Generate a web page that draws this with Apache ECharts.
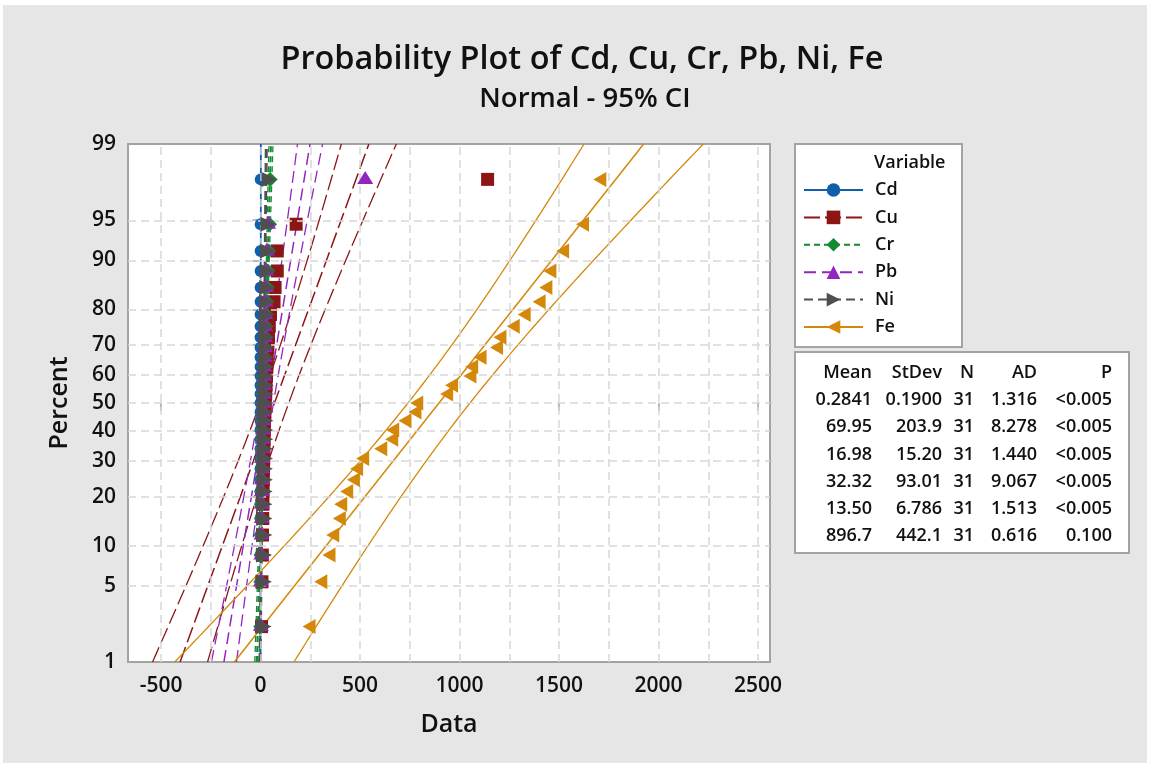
<!DOCTYPE html>
<html>
<head>
<meta charset="utf-8">
<title>Probability Plot</title>
<script src="https://cdn.jsdelivr.net/npm/echarts@6/dist/echarts.min.js"></script>
<style>
html, body { margin: 0; padding: 0; background: #ffffff; }
#frame { position: absolute; left: 3px; top: 5px; width: 1144px; height: 758px; background: #e6e6e6; }
#probChart { position: absolute; left: 0; top: 0; width: 1150px; height: 766px; }
</style>
</head>
<body>
<div id="frame"></div>
<div id="probChart"></div>
<script>
// variables, in drawing order
var variables = ['Cd', 'Cu', 'Cr', 'Pb', 'Ni', 'Fe'];

// plotting positions (median ranks, n = 31), percent
var percents = [2.229, 5.414, 8.599, 11.783, 14.968, 18.153, 21.338, 24.522, 27.707, 30.892,
    34.076, 37.261, 40.446, 43.631, 46.815, 50.000, 53.185, 56.369, 59.554, 62.739,
    65.924, 69.108, 72.293, 75.478, 78.662, 81.847, 85.032, 88.217, 91.401, 94.586, 97.771];

// sorted values
var cdValues = [0.05, 0.07, 0.09, 0.10, 0.12, 0.13, 0.14, 0.15, 0.17, 0.18, 0.19, 0.20, 0.21, 0.22, 0.23, 0.24,
    0.25, 0.27, 0.28, 0.30, 0.31, 0.33, 0.35, 0.37, 0.39, 0.42, 0.45, 0.50, 0.56, 0.68, 0.95];
var cuValues = [5, 7, 9, 10, 11, 12, 13, 14, 15, 16, 17, 18, 19, 20, 22, 24, 26, 28, 30, 32,
    34, 37, 40, 44, 50, 68, 73, 84, 84, 179, 1141];
var crValues = [1, 1.5, 2, 3, 4, 4.5, 5, 6, 7, 7.5, 8, 9, 10, 11, 12, 13, 14, 15, 16, 18,
    20, 22, 24, 26, 28, 31, 34, 37, 41, 45, 48];
var pbValues = [2, 3, 4, 5, 6, 7, 7, 8, 9, 10, 11, 11, 12, 13, 14, 15, 16, 17, 18, 19,
    20, 21, 22, 23, 24, 25, 27, 29, 32, 38, 526];
var niValues = [3, 4, 5, 6, 7, 7, 8, 9, 9, 10, 10, 11, 11, 12, 12, 13, 13, 14, 14, 15,
    15, 16, 17, 18, 19, 20, 21, 23, 25, 27, 33];
var feValues = [255, 314, 355, 374, 407, 414, 444, 478, 494, 524, 615, 670, 675, 737, 787, 796,
    946, 971, 1063, 1072, 1114, 1197, 1214, 1281, 1336, 1411, 1445, 1465, 1529, 1629, 1716];

// statistics table
var means = [0.2841, 69.95, 16.98, 32.32, 13.50, 896.7];
var stdevs = [0.1900, 203.9, 15.20, 93.01, 6.786, 442.1];
var counts = [31, 31, 31, 31, 31, 31];
var meanLabels = ['0.2841', '69.95', '16.98', '32.32', '13.50', '896.7'];
var stdevLabels = ['0.1900', '203.9', '15.20', '93.01', '6.786', '442.1'];
var adLabels = ['1.316', '8.278', '1.440', '9.067', '1.513', '0.616'];
var pLabels = ['<0.005', '<0.005', '<0.005', '<0.005', '<0.005', '0.100'];

// axis ticks
var percentTicks = [1, 5, 10, 20, 30, 40, 50, 60, 70, 80, 90, 95, 99];
var dataTicks = [-500, 0, 500, 1000, 1500, 2000, 2500];
var dataGrid = [-500, -250, 0, 250, 500, 750, 1000, 1250, 1500, 1750, 2000, 2250, 2500];

var allValues = [cdValues, cuValues, crValues, pbValues, niValues, feValues];
var colors = ['#0f5fad', '#8c1515', '#128a32', '#9325bf', '#4f4f4f', '#d4880a'];
var dashes = ['solid', [16, 5], [6, 4], [12, 6], [9, 5], 'solid'];
var lineWidths = [1.5, 1.5, 2, 1.5, 1.5, 1.5];
var symbols = ['circle', 'rect', 'diamond', 'triangle',
    'path://M0,0 L10,6 L0,12 Z', 'path://M10,0 L0,6 L10,12 Z'];
var symbolSizes = [12, 13, 15, [16, 13], [16, 15], [13, 15]];
var symbolOffsets = [[0, 0], [0, 0], [0, 0], [0, -2], [2.5, 0], [-2.2, 0]];

var fontName = '"Open Sans", "Noto Sans", sans-serif';

// normal quantile (Acklam) - the probability scale of the y axis
function probit(p) {
    var a = [-3.969683028665376e+01, 2.209460984245205e+02, -2.759285104469687e+02, 1.383577518672690e+02, -3.066479806614716e+01, 2.506628277459239e+00];
    var b = [-5.447609879822406e+01, 1.615858368580409e+02, -1.556989798598866e+02, 6.680131188771972e+01, -1.328068155288572e+01];
    var c = [-7.784894002430293e-03, -3.223964580411365e-01, -2.400758277161838e+00, -2.549732539343734e+00, 4.374664141464968e+00, 2.938163982698783e+00];
    var d = [7.784695709041462e-03, 3.224671290700398e-01, 2.445134137142996e+00, 3.754408661907416e+00];
    var q, r;
    if (p < 0.02425) {
        q = Math.sqrt(-2 * Math.log(p));
        return (((((c[0] * q + c[1]) * q + c[2]) * q + c[3]) * q + c[4]) * q + c[5]) / ((((d[0] * q + d[1]) * q + d[2]) * q + d[3]) * q + 1);
    }
    if (p > 1 - 0.02425) {
        q = Math.sqrt(-2 * Math.log(1 - p));
        return -(((((c[0] * q + c[1]) * q + c[2]) * q + c[3]) * q + c[4]) * q + c[5]) / ((((d[0] * q + d[1]) * q + d[2]) * q + d[3]) * q + 1);
    }
    q = p - 0.5;
    r = q * q;
    return (((((a[0] * r + a[1]) * r + a[2]) * r + a[3]) * r + a[4]) * r + a[5]) * q / (((((b[0] * r + b[1]) * r + b[2]) * r + b[3]) * r + b[4]) * r + 1);
}

var zTicks = percentTicks.map(function (p) { return probit(p / 100); });
var zMin = zTicks[0];
var zMax = zTicks[zTicks.length - 1];
var zCrit = probit(0.975);

// 95% band around the fitted percentile line (from mean / stdev of the table)
function ciCurve(m, s, n, sign) {
    var pts = [];
    for (var k = 0; k <= 60; k++) {
        var z = zMin + (zMax - zMin) * k / 60;
        var half = zCrit * s * Math.sqrt(1 / n + z * z / (2 * n));
        pts.push([m + s * z + sign * half, z]);
    }
    return pts;
}

var probChart = echarts.init(document.getElementById('probChart'));

var gridLines = [];
dataGrid.forEach(function (v) { gridLines.push({ xAxis: v }); });
zTicks.slice(1, zTicks.length - 1).forEach(function (z) { gridLines.push({ yAxis: z }); });

var series = [{
    type: 'line',
    data: [],
    silent: true,
    z: 1,
    markLine: {
        silent: true,
        symbol: ['none', 'none'],
        label: { show: false },
        lineStyle: { color: '#d8d8d8', type: [8, 5], width: 1.5 },
        data: gridLines
    }
}];

variables.forEach(function (name, k) {
    var m = means[k], s = stdevs[k], n = counts[k];
    var ls = { color: colors[k], width: lineWidths[k], type: dashes[k] };
    series.push({
        name: name,
        type: 'line',
        data: [[m + s * zMin, zMin], [m + s * zMax, zMax]],
        symbol: symbols[k],
        showSymbol: false,
        itemStyle: { color: colors[k] },
        lineStyle: ls,
        silent: true,
        z: 2
    });
    series.push({
        name: name, type: 'line', data: ciCurve(m, s, n, -1), symbol: 'none',
        lineStyle: { color: colors[k], width: 1.3, type: dashes[k] }, silent: true, z: 2
    });
    series.push({
        name: name, type: 'line', data: ciCurve(m, s, n, 1), symbol: 'none',
        lineStyle: { color: colors[k], width: 1.3, type: dashes[k] }, silent: true, z: 2
    });
});

variables.forEach(function (name, k) {
    var pts = [];
    for (var i = 0; i < allValues[k].length; i++) {
        pts.push([allValues[k][i], probit(percents[i] / 100)]);
    }
    series.push({
        name: name,
        type: 'scatter',
        data: pts,
        symbol: symbols[k],
        symbolSize: symbolSizes[k],
        symbolOffset: symbolOffsets[k],
        itemStyle: { color: colors[k], opacity: 1 },
        silent: true,
        z: 3 + k
    });
});

// stats table
var tableText = [];
var cols = [
    { right: 872, head: 'Mean', vals: meanLabels },
    { right: 942, head: 'StDev', vals: stdevLabels },
    { right: 974, head: 'N', vals: counts.map(String) },
    { right: 1037, head: 'AD', vals: adLabels },
    { right: 1112, head: 'P', vals: pLabels }
];
cols.forEach(function (c) {
    tableText.push({
        type: 'text', x: c.right, y: 373, z: 10,
        style: { text: c.head, align: 'right', verticalAlign: 'middle', fill: '#111', font: '600 18px ' + fontName }
    });
    c.vals.forEach(function (v, i) {
        tableText.push({
            type: 'text', x: c.right, y: 400 + i * 27.2, z: 10,
            style: { text: v, align: 'right', verticalAlign: 'middle', fill: '#111', font: '600 18px ' + fontName }
        });
    });
});

option = {
    animation: false,
    title: [{
        text: 'Probability Plot of Cd, Cu, Cr, Pb, Ni, Fe',
        left: 577, top: 38, textAlign: 'center',
        textStyle: { fontSize: 32.5, fontWeight: 600, color: '#111', fontFamily: fontName }
    }, {
        text: 'Normal - 95% CI',
        left: 580, top: 80, textAlign: 'center',
        textStyle: { fontSize: 27.5, fontWeight: 600, color: '#111', fontFamily: fontName }
    }],
    grid: {
        left: 128, top: 144, width: 642, height: 518,
        show: true, backgroundColor: '#ffffff', borderColor: '#a3a3a3', borderWidth: 2
    },
    legend: {
        data: variables,
        orient: 'vertical',
        left: 803, top: 181,
        padding: 0,
        itemWidth: 59, itemHeight: 17, itemGap: 9.4,
        selectedMode: false,
        textStyle: { fontSize: 18, fontWeight: 600, color: '#111', fontFamily: fontName, padding: [0, 0, 0, 7] }
    },
    xAxis: {
        type: 'value',
        min: -666, max: 2560,
        axisLine: { show: false },
        axisTick: { show: true, length: 8, customValues: dataTicks, lineStyle: { color: '#a3a3a3', width: 1.5 } },
        axisLabel: {
            customValues: dataTicks, margin: 14, fontSize: 21, fontWeight: 600, color: '#111', fontFamily: fontName,
            formatter: function (v) { return String(v); }
        },
        splitLine: { show: false },
        name: 'Data', nameLocation: 'middle', nameGap: 50,
        nameTextStyle: { fontSize: 25, fontWeight: 600, color: '#111', fontFamily: fontName }
    },
    yAxis: {
        type: 'value',
        min: zMin, max: zMax,
        axisLine: { show: false },
        axisTick: { show: true, length: 8, customValues: zTicks, lineStyle: { color: '#a3a3a3', width: 1.5 } },
        axisLabel: {
            customValues: zTicks, margin: 12, fontSize: 21, fontWeight: 600, color: '#111', fontFamily: fontName,
            formatter: function (v) {
                var best = 0;
                for (var i = 1; i < zTicks.length; i++) {
                    if (Math.abs(zTicks[i] - v) < Math.abs(zTicks[best] - v)) best = i;
                }
                return String(percentTicks[best]);
            }
        },
        splitLine: { show: false },
        name: 'Percent', nameLocation: 'middle', nameGap: 56,
        nameTextStyle: { fontSize: 25, fontWeight: 600, color: '#111', fontFamily: fontName }
    },
    graphic: [{
        type: 'rect', z: 0,
        shape: { x: 795, y: 144, width: 167, height: 203 },
        style: { fill: '#ffffff', stroke: '#a3a3a3', lineWidth: 2 }
    }, {
        type: 'text', x: 874, y: 163, z: 10,
        style: { text: 'Variable', verticalAlign: 'middle', fill: '#111', font: '600 18px ' + fontName }
    }, {
        type: 'rect', z: 0,
        shape: { x: 795, y: 352, width: 334, height: 201 },
        style: { fill: '#ffffff', stroke: '#a3a3a3', lineWidth: 2 }
    }].concat(tableText),
    series: series
};

probChart.setOption(option);
window.onresize = probChart.resize;
</script>
</body>
</html>
